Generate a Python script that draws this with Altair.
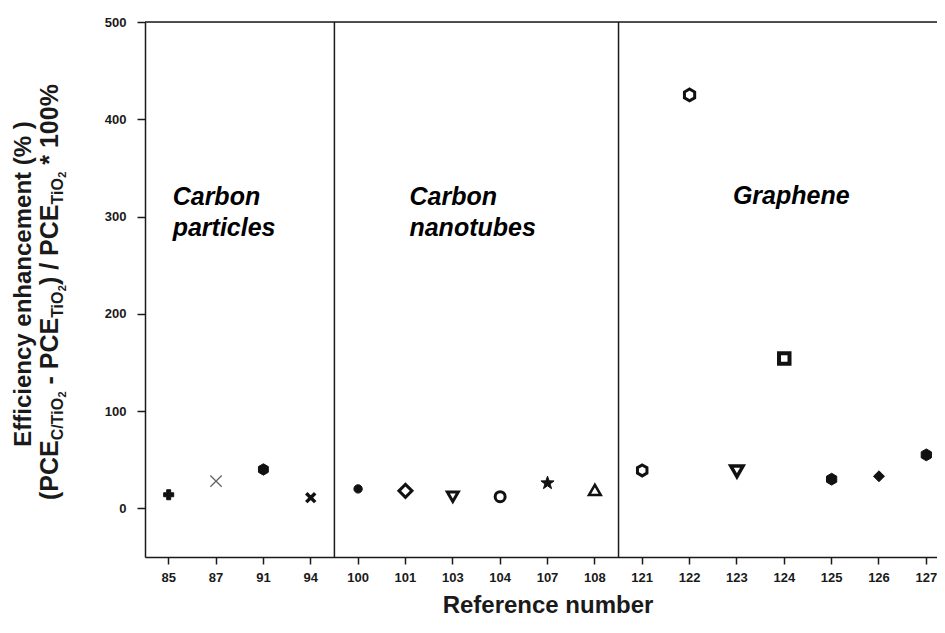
import altair as alt
import pandas as pd

# ---- data ----
refs = ["85", "87", "91", "94", "100", "101", "103", "104", "107", "108",
        "121", "122", "123", "124", "125", "126", "127"]
enhancement = [14, 28, 40, 11, 20, 18, 12, 12, 26, 19,
               39, 425, 38, 154, 30, 33, 55]
group_ends = ["94", "108"]
y_ticks = [0, 100, 200, 300, 400, 500]

annot_text = ["Carbon", "particles", "Carbon", "nanotubes"]
annot_ref = ["85", "85", "101", "101"]
annot_y = [320, 288, 320, 288]
graphene_text = ["Graphene"]
graphene_ref = ["123"]
graphene_y = [321]

# ---- marker styles (one per reference) ----
HEX = "M0,-1L0.866,-0.5L0.866,0.5L0,1L-0.866,0.5L-0.866,-0.5Z"
STAR = ("M0,-1L0.235,-0.324L0.951,-0.309L0.380,0.124L0.588,0.809L0,0.4"
        "L-0.588,0.809L-0.380,0.124L-0.951,-0.309L-0.235,-0.324Z")
XSH = "M-1,-1L1,1M1,-1L-1,1"
shapes = ["cross", XSH, HEX, XSH, "circle", "diamond", "triangle-down", "circle",
          STAR, "triangle-up", HEX, HEX, "triangle-down", "square", HEX, "diamond", HEX]
filled = [True, False, True, False, True, False, False, False,
          True, False, False, False, False, False, True, True, True]
sizes = [100, 130, 130, 80, 70, 170, 120, 100, 190, 140, 120, 140, 150, 110, 140, 120, 140]
swidths = [1, 1.3, 1, 3.5, 1, 3, 3, 3, 1, 2.5, 3, 3, 3.5, 4, 1, 1, 1]
stroke_col = ["#111", "#666", "#111", "#111", "#111", "#111", "#111", "#111",
              "#111", "#111", "#111", "#111", "#111", "#111", "#111", "#111", "#111"]

FONT = "Liberation Sans"
INK = "#1a1a1a"

df = pd.DataFrame({"ref": refs, "value": enhancement})

xscale = alt.Scale(domain=refs, range=[0, 805], paddingInner=0, paddingOuter=0)
yscale = alt.Scale(domain=[-50, 500], nice=False, zero=False)
xaxis = alt.Axis(title="Reference number", labelAngle=0, labelFont=FONT, labelFontSize=13,
                 labelFontWeight="bold", labelColor=INK, labelPadding=7, tickSize=7,
                 tickWidth=1.5, tickColor=INK, domainColor=INK, domainWidth=1.5,
                 titleFont=FONT, titleFontSize=24, titleFontWeight="bold", titleColor=INK,
                 titlePadding=9, grid=False)
yaxis = alt.Axis(title=None, values=y_ticks, labelFont=FONT, labelFontSize=13,
                 labelFontWeight="bold", labelColor=INK, labelPadding=11, tickSize=8,
                 tickWidth=1.5, tickColor=INK, domainColor=INK, domainWidth=1.5, grid=False)

X = alt.X("ref:N", scale=xscale, axis=xaxis)
Y = alt.Y("value:Q", scale=yscale, axis=yaxis)

point_layers = []
for r, shp, fl, sz, sw, sc in zip(refs, shapes, filled, sizes, swidths, stroke_col):
    point_layers.append(
        alt.Chart(df).transform_filter(alt.datum.ref == r).mark_point(
            shape=shp, size=sz, strokeWidth=sw, stroke=sc,
            fill=("#111" if fl else "white"), filled=False, opacity=1, fillOpacity=1,
        ).encode(x=X, y=Y)
    )

seps = alt.Chart(pd.DataFrame({"ref": group_ends})).mark_rule(color=INK, strokeWidth=1.5).encode(
    x=alt.X("ref:N", scale=xscale, axis=xaxis, bandPosition=1)
)

top = alt.Chart(pd.DataFrame({"value": [500]})).mark_rule(color=INK, strokeWidth=1.5).encode(
    y=Y
)

ann = alt.Chart(pd.DataFrame({"ref": annot_ref, "value": annot_y, "t": annot_text})).mark_text(
    font=FONT, fontSize=25, fontWeight="bold", fontStyle="italic", align="left",
    baseline="middle", dx=4, color="#000"
).encode(x=X, y=Y, text="t:N")

ann2 = alt.Chart(pd.DataFrame({"ref": graphene_ref, "value": graphene_y, "t": graphene_text})).mark_text(
    font=FONT, fontSize=25, fontWeight="bold", fontStyle="italic", align="left",
    baseline="middle", dx=-4, color="#000"
).encode(x=X, y=Y, text="t:N")

# ---- rotated y-axis title with subscripts ----
W = {'(': 333, ')': 333, 'P': 667, 'C': 722, 'E': 667, ' ': 278, '-': 333, 'T': 611,
     'i': 278, 'O': 778, '/': 278, '*': 389, '0': 556, '1': 556, '2': 556, '%': 889}


def tw(s, size):
    return sum(W.get(c, 556) for c in s) * size / 1000.0


F, f1, f2 = 25, 16, 11
segments = [("(PCE", F, 0), ("C/TiO", f1, 5), ("2", f2, 8), (" - PCE", F, 0),
            ("TiO", f1, 5), ("2", f2, 8), (") / PCE", F, 0), ("TiO", f1, 5),
            ("2", f2, 8), (" * 100%", F, 0)]
line2_base_x = -87
line2_start_y = 478
title_layers = []
cum = 0.0
for text, size, shift in segments:
    lead = len(text) - len(text.lstrip(" "))
    trail = len(text) - len(text.rstrip(" "))
    core = text.strip(" ")
    cum += lead * W[' '] * size / 1000.0
    pos = cum
    cum += tw(core, size) + trail * W[' '] * size / 1000.0
    title_layers.append(
        alt.Chart(pd.DataFrame({"t": [core]})).mark_text(
            font=FONT, fontSize=size, fontWeight="bold", angle=270, align="left",
            baseline="alphabetic", color=INK
        ).encode(x=alt.value(line2_base_x + shift), y=alt.value(line2_start_y - pos), text="t:N")
    )

line1 = alt.Chart(pd.DataFrame({"t": ["Efficiency enhancement (% )"]})).mark_text(
    font=FONT, fontSize=24, fontWeight="bold", angle=270, align="center",
    baseline="alphabetic", color=INK
).encode(x=alt.value(-114), y=alt.value(262), text="t:N")

chart = alt.layer(seps, top, *point_layers, ann, ann2, line1, *title_layers).properties(
    width=792, height=535,
    autosize=alt.AutoSizeParams(type="none"),
    padding={"left": 137, "top": 14, "right": 0, "bottom": 62},
).configure_view(stroke=None).configure(background="white")

chart.save("out.html", embed_options={"renderer": "svg", "actions": False})
